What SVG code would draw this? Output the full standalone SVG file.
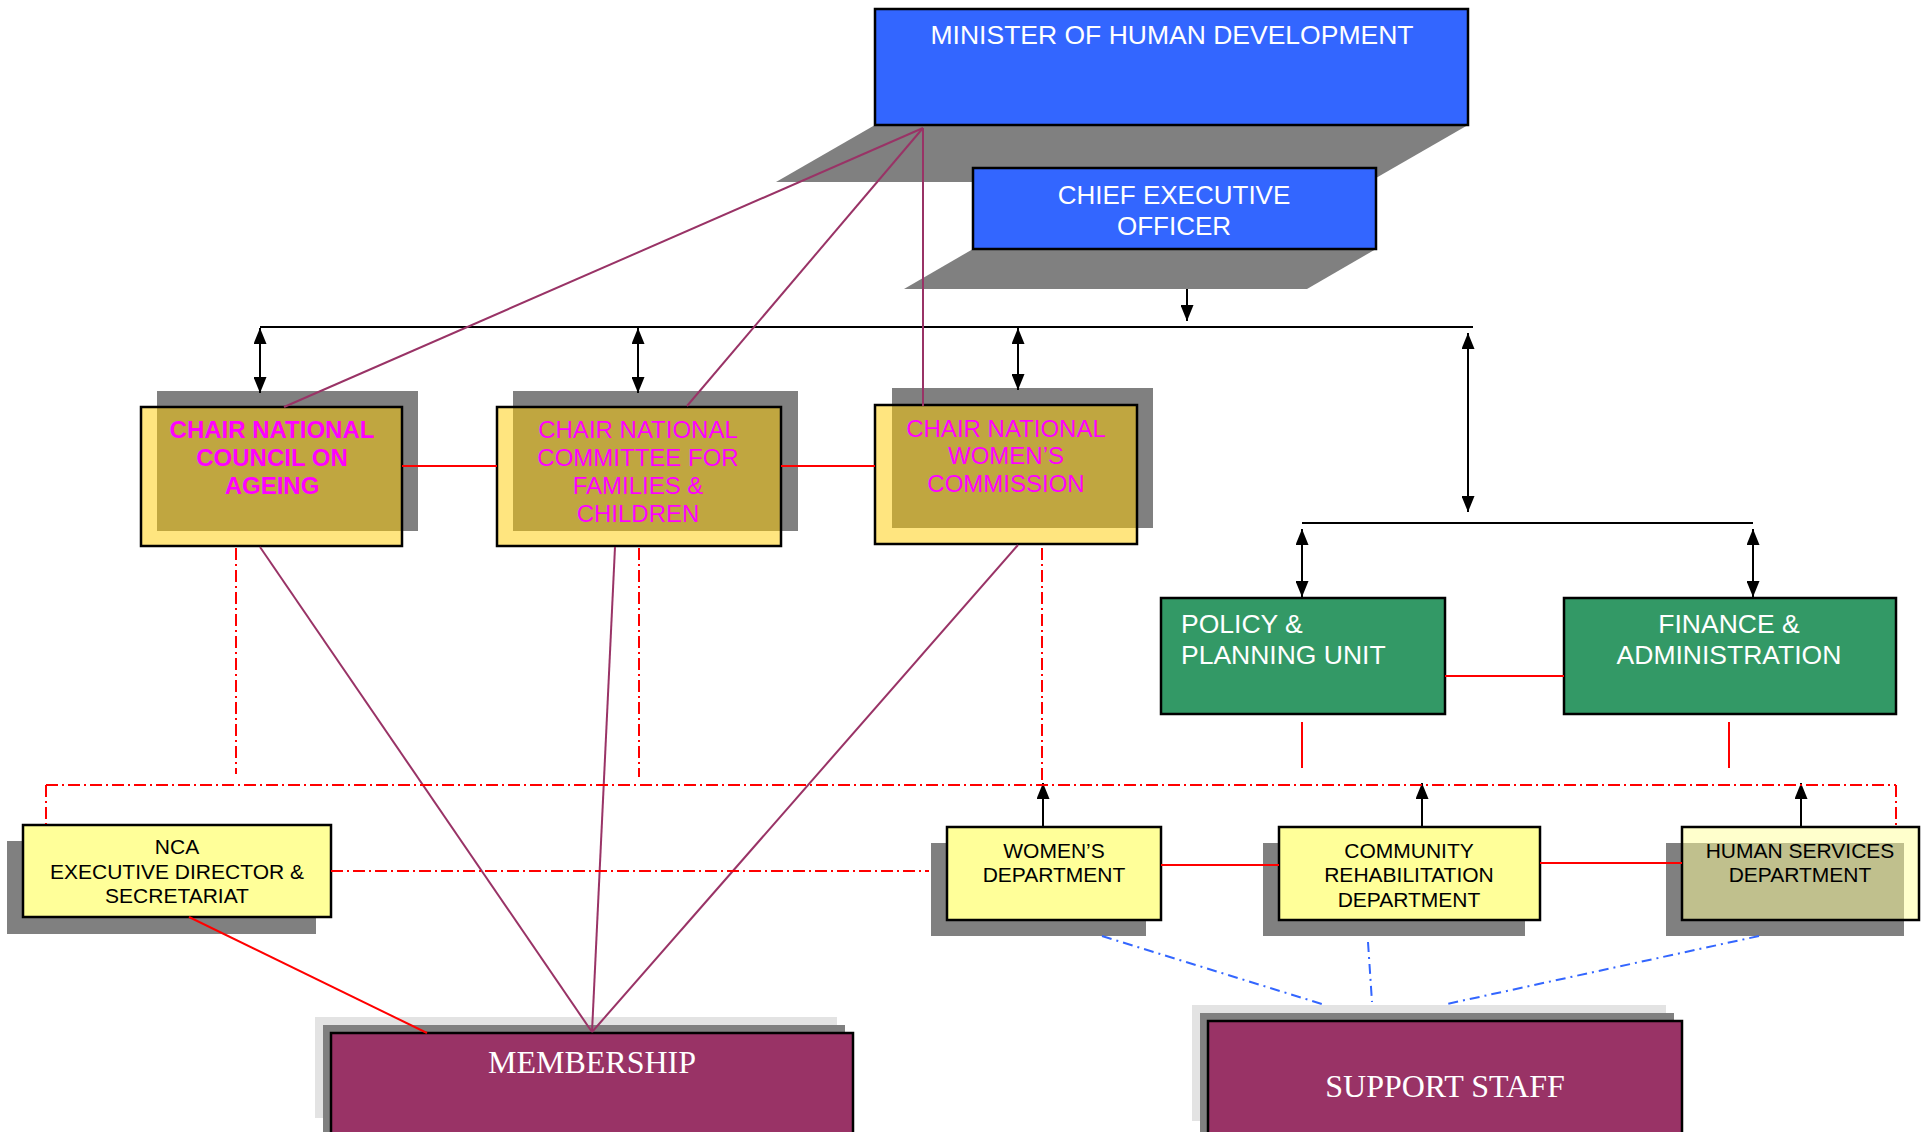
<svg xmlns="http://www.w3.org/2000/svg" width="1925" height="1132" viewBox="0 0 1925 1132">
<defs>
<marker id="ah" viewBox="0 0 16 13" refX="16" refY="6.5" markerWidth="16" markerHeight="13" markerUnits="userSpaceOnUse" orient="auto-start-reverse">
<path d="M0,0 L16,6.5 L0,13 z" fill="#000"/>
</marker>
<style>
.sh{fill:#808080}
.blue{fill:#3366FF;stroke:#000;stroke-width:2.5}
.green{fill:#339966;stroke:#000;stroke-width:2.5}
.chair{fill:#FFCB00;fill-opacity:0.5;stroke:#000;stroke-width:2.5}
.dept{fill:#FFFF99;stroke:#000;stroke-width:2.5}
.maroon{fill:#993366;stroke:#000;stroke-width:2.5}
.wt{font-family:"Liberation Sans",Arial,sans-serif;fill:#fff;font-size:26.5px}
.mt{font-family:"Liberation Sans",Arial,sans-serif;fill:#FF00FF;font-size:24px;text-anchor:middle}
.bt{font-family:"Liberation Sans",Arial,sans-serif;fill:#000;font-size:21px;text-anchor:middle}
.st{font-family:"Liberation Serif","Times New Roman",serif;fill:#fff;font-size:32px;text-anchor:middle}
.mid{text-anchor:middle}
.blk{stroke:#000;stroke-width:2;fill:none}
.red{stroke:#FF0000;stroke-width:2;fill:none}
.rdd{stroke:#FF0000;stroke-width:2;fill:none;stroke-dasharray:12 4 2 4}
.bdd{stroke:#3366FF;stroke-width:2;fill:none;stroke-dasharray:10 5 2 5}
.pur{stroke:#993366;stroke-width:2;fill:none}
</style>
</defs>
<rect width="1925" height="1132" fill="#fff"/>

<g id="minister">
<polygon class="sh" points="875,125 1468,125 1369,182 776,182"/>
<rect class="blue" x="875" y="9" width="593" height="116"/>
<text class="wt mid" x="1172" y="44">MINISTER OF HUMAN DEVELOPMENT</text>
</g>

<g id="ceo">
<polygon class="sh" points="973,249 1376,249 1307,289 904,289"/>
<rect class="blue" x="973" y="168" width="403" height="81"/>
<text class="wt mid" x="1174" y="204" style="font-size:26px">CHIEF EXECUTIVE</text>
<text class="wt mid" x="1174" y="235" style="font-size:26px">OFFICER</text>
</g>

<g id="chair-ageing">
<rect class="sh" x="157" y="391" width="261" height="140"/>
<rect class="chair" x="141" y="407" width="261" height="139"/>
<text class="mt" x="272" y="438" font-weight="bold">CHAIR NATIONAL</text>
<text class="mt" x="272" y="466" font-weight="bold">COUNCIL ON</text>
<text class="mt" x="272" y="494" font-weight="bold">AGEING</text>
</g>

<g id="chair-families">
<rect class="sh" x="513" y="391" width="285" height="140"/>
<rect class="chair" x="497" y="407" width="284" height="139"/>
<text class="mt" x="638" y="438">CHAIR NATIONAL</text>
<text class="mt" x="638" y="466">COMMITTEE FOR</text>
<text class="mt" x="638" y="494">FAMILIES &amp;</text>
<text class="mt" x="638" y="522">CHILDREN</text>
</g>

<g id="chair-women">
<rect class="sh" x="892" y="388" width="261" height="140"/>
<rect class="chair" x="875" y="405" width="262" height="139"/>
<text class="mt" x="1006" y="437">CHAIR NATIONAL</text>
<text class="mt" x="1006" y="464">WOMEN’S</text>
<text class="mt" x="1006" y="492">COMMISSION</text>
</g>

<g id="policy">
<rect class="green" x="1161" y="598" width="284" height="116"/>
<text class="wt" x="1181" y="633">POLICY &amp;</text>
<text class="wt" x="1181" y="664">PLANNING UNIT</text>
</g>

<g id="finance">
<rect class="green" x="1564" y="598" width="332" height="116"/>
<text class="wt mid" x="1729" y="633">FINANCE &amp;</text>
<text class="wt mid" x="1729" y="664">ADMINISTRATION</text>
</g>

<g id="nca">
<rect class="sh" x="7" y="841" width="309" height="93"/>
<rect class="dept" x="23" y="825" width="308" height="92"/>
<text class="bt" x="177" y="854">NCA</text>
<text class="bt" x="177" y="879">EXECUTIVE DIRECTOR &amp;</text>
<text class="bt" x="177" y="903">SECRETARIAT</text>
</g>

<g id="womens-dept">
<rect class="sh" x="931" y="843" width="215" height="93"/>
<rect class="dept" x="947" y="827" width="214" height="93"/>
<text class="bt" x="1054" y="858">WOMEN’S</text>
<text class="bt" x="1054" y="882">DEPARTMENT</text>
</g>

<g id="community">
<rect class="sh" x="1263" y="843" width="262" height="93"/>
<rect class="dept" x="1279" y="827" width="261" height="93"/>
<text class="bt" x="1409" y="858">COMMUNITY</text>
<text class="bt" x="1409" y="882">REHABILITATION</text>
<text class="bt" x="1409" y="907">DEPARTMENT</text>
</g>

<g id="human-services">
<rect class="sh" x="1666" y="843" width="238" height="93"/>
<rect class="dept" x="1682" y="827" width="237" height="93" style="fill-opacity:0.5"/>
<text class="bt" x="1800" y="858">HUMAN SERVICES</text>
<text class="bt" x="1800" y="882">DEPARTMENT</text>
</g>

<g id="membership">
<rect x="315" y="1017" width="522" height="101" fill="#E3E3E3"/>
<rect class="sh" x="323" y="1025" width="522" height="120"/>
<rect class="maroon" x="331" y="1033" width="522" height="110"/>
<text class="st" x="592" y="1073">MEMBERSHIP</text>
</g>

<g id="support-staff">
<rect x="1192" y="1005" width="474" height="116" fill="#E3E3E3"/>
<rect class="sh" x="1200" y="1013" width="474" height="130"/>
<rect class="maroon" x="1208" y="1021" width="474" height="125"/>
<text class="st" x="1445" y="1097">SUPPORT STAFF</text>
</g>

<g id="connectors">
<line class="blk" x1="1187" y1="289" x2="1187" y2="321" marker-end="url(#ah)"/>
<line class="blk" x1="260" y1="327" x2="1473" y2="327"/>
<line class="blk" x1="260" y1="328" x2="260" y2="393" marker-start="url(#ah)" marker-end="url(#ah)"/>
<line class="blk" x1="638" y1="328" x2="638" y2="393" marker-start="url(#ah)" marker-end="url(#ah)"/>
<line class="blk" x1="1018" y1="328" x2="1018" y2="390" marker-start="url(#ah)" marker-end="url(#ah)"/>
<line class="blk" x1="1468" y1="333" x2="1468" y2="512" marker-start="url(#ah)" marker-end="url(#ah)"/>
<line class="blk" x1="1302" y1="523" x2="1753" y2="523"/>
<line class="blk" x1="1302" y1="529" x2="1302" y2="597" marker-start="url(#ah)" marker-end="url(#ah)"/>
<line class="blk" x1="1753" y1="529" x2="1753" y2="597" marker-start="url(#ah)" marker-end="url(#ah)"/>
<line class="blk" x1="1043" y1="827" x2="1043" y2="783" marker-end="url(#ah)"/>
<line class="blk" x1="1422" y1="827" x2="1422" y2="783" marker-end="url(#ah)"/>
<line class="blk" x1="1801" y1="827" x2="1801" y2="783" marker-end="url(#ah)"/>
<line class="pur" x1="923" y1="128" x2="284" y2="407"/>
<line class="pur" x1="923" y1="128" x2="687" y2="406"/>
<line class="pur" x1="923" y1="128" x2="923" y2="406"/>
<line class="pur" x1="592" y1="1032" x2="260" y2="547"/>
<line class="pur" x1="592" y1="1032" x2="615" y2="547"/>
<line class="pur" x1="592" y1="1032" x2="1018" y2="545"/>
<line class="red" x1="402" y1="466" x2="497" y2="466"/>
<line class="red" x1="781" y1="466" x2="875" y2="466"/>
<line class="red" x1="1445" y1="676" x2="1564" y2="676"/>
<line class="red" x1="1302" y1="722" x2="1302" y2="768"/>
<line class="red" x1="1729" y1="722" x2="1729" y2="768"/>
<line class="red" x1="1161" y1="865" x2="1279" y2="865"/>
<line class="red" x1="1540" y1="863" x2="1682" y2="863"/>
<line class="red" x1="189" y1="917" x2="427" y2="1033"/>
<line class="rdd" x1="236" y1="548" x2="236" y2="774"/>
<line class="rdd" x1="639" y1="548" x2="639" y2="777"/>
<line class="rdd" x1="1042" y1="548" x2="1042" y2="785"/>
<line class="rdd" x1="46" y1="785" x2="1896" y2="785"/>
<line class="rdd" x1="46" y1="785" x2="46" y2="824"/>
<line class="rdd" x1="1896" y1="785" x2="1896" y2="827"/>
<line class="rdd" x1="331" y1="871" x2="929" y2="871"/>
<line class="bdd" x1="1102" y1="936" x2="1322" y2="1004"/>
<line class="bdd" x1="1368" y1="942" x2="1372" y2="1002"/>
<line class="bdd" x1="1759" y1="936" x2="1447" y2="1004"/>
</g>
</svg>
